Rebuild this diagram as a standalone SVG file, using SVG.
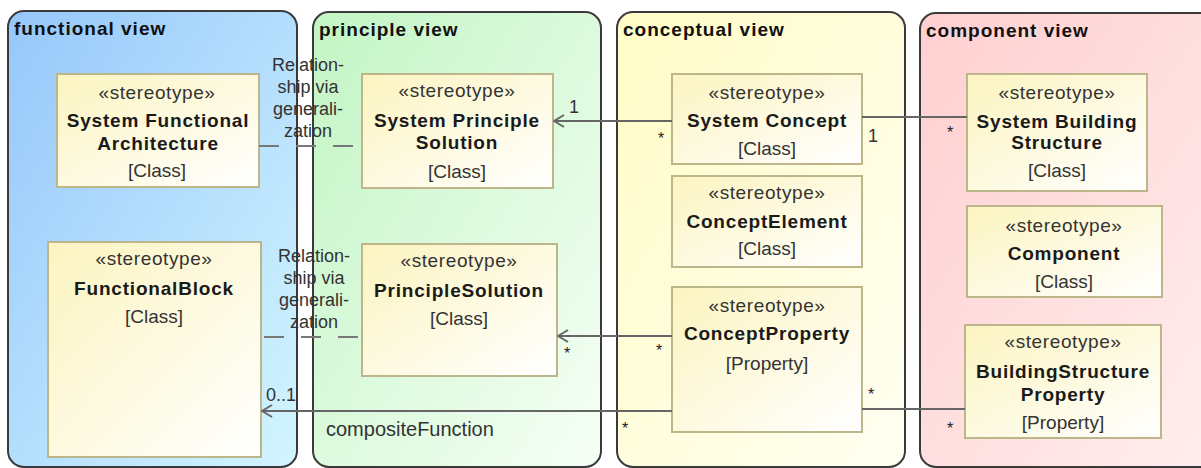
<svg xmlns="http://www.w3.org/2000/svg" width="1201" height="468" viewBox="0 0 1201 468">
<defs>
<linearGradient id="gBlue" x1="0" y1="0" x2="1" y2="1"><stop offset="0" stop-color="#96c7fb"/><stop offset="1" stop-color="#d2f5ff"/></linearGradient>
<linearGradient id="gGreen" x1="0" y1="0" x2="1" y2="1"><stop offset="0" stop-color="#c2f5c4"/><stop offset="1" stop-color="#f6fff6"/></linearGradient>
<linearGradient id="gYellow" x1="0" y1="0" x2="1" y2="1"><stop offset="0" stop-color="#fffcc6"/><stop offset="1" stop-color="#fffff2"/></linearGradient>
<linearGradient id="gPink" x1="0" y1="0" x2="1" y2="1"><stop offset="0" stop-color="#ffcfd0"/><stop offset="1" stop-color="#ffeeee"/></linearGradient>
<linearGradient id="gNode" x1="0" y1="0" x2="1" y2="1"><stop offset="0" stop-color="#fcf4c0"/><stop offset="1" stop-color="#ffffff"/></linearGradient>
<marker id="open" viewBox="0 0 12 14" refX="11" refY="7" markerWidth="12" markerHeight="14" markerUnits="userSpaceOnUse" orient="auto">
<path d="M1,1 L11,7 L1,13" fill="none" stroke="#666" stroke-width="2"/>
</marker>
<style>
.panel{stroke:#3a3a3a;stroke-width:2}
.title{font-family:"Liberation Sans",Arial,sans-serif;font-weight:bold;font-size:19px;letter-spacing:1px;fill:#111}
.node rect{fill:url(#gNode);stroke:#bdb68a;stroke-width:2}
.st{font-family:"Liberation Sans",Arial,sans-serif;font-size:19px;letter-spacing:0.6px;fill:#333;text-anchor:middle}
.nm{font-family:"Liberation Sans",Arial,sans-serif;font-weight:bold;font-size:19px;letter-spacing:0.8px;fill:#1a1a1a;text-anchor:middle}
.ty{font-family:"Liberation Sans",Arial,sans-serif;font-size:19px;fill:#333;text-anchor:middle}
.lbl{font-family:"Liberation Sans",Arial,sans-serif;font-size:18px;fill:#333}
.rel{font-family:"Liberation Sans",Arial,sans-serif;font-size:18px;fill:#333;text-anchor:middle}
.star{font-family:"Liberation Sans",Arial,sans-serif;font-size:16px;fill:#222;text-anchor:middle}
.line{stroke:#666;stroke-width:2;fill:none}
.dash{stroke:#777;stroke-width:2;fill:none;stroke-dasharray:20 17}
</style>
</defs>
<rect width="1201" height="468" fill="#ffffff"/>
<g id="panels">
<g id="functional-view"><rect class="panel" x="8" y="11" width="289" height="456" rx="16" fill="url(#gBlue)"/><text class="title" x="14" y="35">functional view</text></g>
<g id="principle-view"><rect class="panel" x="313" y="12" width="288" height="455" rx="16" fill="url(#gGreen)"/><text class="title" x="319" y="36">principle view</text></g>
<g id="conceptual-view"><rect class="panel" x="617" y="12" width="288" height="455" rx="16" fill="url(#gYellow)"/><text class="title" x="623" y="36">conceptual view</text></g>
<g id="component-view"><rect class="panel" x="920" y="13" width="300" height="454" rx="16" fill="url(#gPink)"/><text class="title" x="926" y="37">component view</text></g>
</g>
<g id="nodes">
<g id="SystemFunctionalArchitecture" class="node"><rect x="57" y="74" width="202" height="113"/><text class="st" x="157" y="99">«stereotype»</text><text class="nm" x="158" y="127">System Functional</text><text class="nm" x="158" y="150">Architecture</text><text class="ty" x="157" y="177">[Class]</text></g>
<g id="FunctionalBlock" class="node"><rect x="48" y="242" width="213" height="215"/><text class="st" x="154" y="265">«stereotype»</text><text class="nm" x="154" y="295">FunctionalBlock</text><text class="ty" x="154" y="323">[Class]</text></g>
<g id="SystemPrincipleSolution" class="node"><rect x="362" y="74" width="191" height="114"/><text class="st" x="457" y="97">«stereotype»</text><text class="nm" x="457" y="127">System Principle</text><text class="nm" x="457" y="149">Solution</text><text class="ty" x="457" y="178">[Class]</text></g>
<g id="PrincipleSolution" class="node"><rect x="362" y="244" width="195" height="132"/><text class="st" x="459" y="267">«stereotype»</text><text class="nm" x="459" y="297">PrincipleSolution</text><text class="ty" x="459" y="325">[Class]</text></g>
<g id="SystemConcept" class="node"><rect x="672" y="74" width="190" height="90"/><text class="st" x="767" y="99">«stereotype»</text><text class="nm" x="767" y="127">System Concept</text><text class="ty" x="767" y="155">[Class]</text></g>
<g id="ConceptElement" class="node"><rect x="672" y="176" width="190" height="91"/><text class="st" x="767" y="199">«stereotype»</text><text class="nm" x="767" y="228">ConceptElement</text><text class="ty" x="767" y="255">[Class]</text></g>
<g id="ConceptProperty" class="node"><rect x="672" y="287" width="190" height="145"/><text class="st" x="767" y="312">«stereotype»</text><text class="nm" x="767" y="340">ConceptProperty</text><text class="ty" x="767" y="370">[Property]</text></g>
<g id="SystemBuildingStructure" class="node"><rect x="967" y="74" width="180" height="117"/><text class="st" x="1057" y="99">«stereotype»</text><text class="nm" x="1057" y="128">System Building</text><text class="nm" x="1057" y="149">Structure</text><text class="ty" x="1057" y="177">[Class]</text></g>
<g id="Component" class="node"><rect x="967" y="206" width="195" height="91"/><text class="st" x="1064" y="232">«stereotype»</text><text class="nm" x="1064" y="260">Component</text><text class="ty" x="1064" y="288">[Class]</text></g>
<g id="BuildingStructureProperty" class="node"><rect x="965" y="325" width="196" height="113"/><text class="st" x="1063" y="348">«stereotype»</text><text class="nm" x="1063" y="378">BuildingStructure</text><text class="nm" x="1063" y="401">Property</text><text class="ty" x="1063" y="429">[Property]</text></g>
</g>
<g id="connectors">
<line class="dash" x1="259" y1="146" x2="362" y2="146"/>
<line class="dash" x1="264" y1="337" x2="362" y2="337"/>
<line class="line" x1="672" y1="121" x2="554" y2="121" marker-end="url(#open)"/>
<line class="line" x1="862" y1="117" x2="967" y2="117"/>
<line class="line" x1="672" y1="336" x2="558" y2="336" marker-end="url(#open)"/>
<line class="line" x1="672" y1="411" x2="262" y2="411" marker-end="url(#open)"/>
<line class="line" x1="862" y1="409" x2="965" y2="409"/>
<text class="rel" x="308" y="71">Relation-</text><text class="rel" x="308" y="93">ship via</text><text class="rel" x="308" y="115">generali-</text><text class="rel" x="308" y="137">zation</text>
<text class="rel" x="314" y="262">Relation-</text><text class="rel" x="314" y="284">ship via</text><text class="rel" x="314" y="306">generali-</text><text class="rel" x="314" y="328">zation</text>
<text class="lbl" x="569" y="113">1</text>
<text class="star" x="661" y="144">*</text>
<text class="lbl" x="868" y="142">1</text>
<text class="star" x="950" y="138">*</text>
<text class="star" x="567" y="359">*</text>
<text class="star" x="659" y="356">*</text>
<text class="lbl" x="266" y="401">0..1</text>
<text class="lbl" x="326" y="436" style="font-size:20px">compositeFunction</text>
<text class="star" x="625" y="434">*</text>
<text class="star" x="871" y="400">*</text>
<text class="star" x="950" y="434">*</text>
</g>
</svg>
